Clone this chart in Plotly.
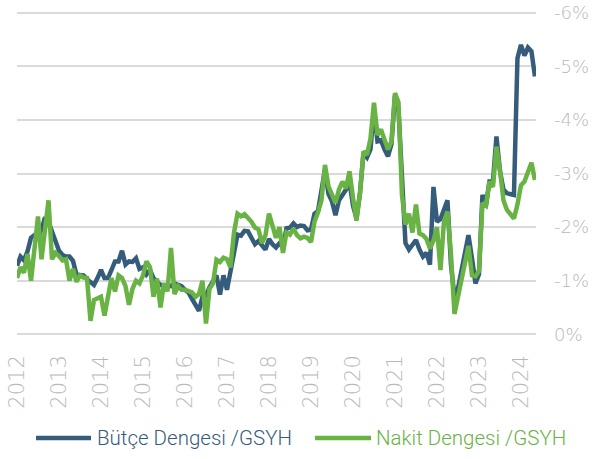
import plotly.graph_objects as go

# Monthly observations (index 0 = Jan 2012), balance / GDP in %
butce = [
    -1.28, -1.45, -1.38, -1.55, -1.80, -1.85, -1.80, -1.95, -2.18, -2.10,
    -1.92, -1.74, -1.56, -1.48, -1.45, -1.45, -1.37, -1.11, -1.10, -1.10,
    -1.03, -0.96, -0.92, -1.05, -1.20, -1.05, -1.05, -1.20, -1.36, -1.36,
    -1.56, -1.30, -1.36, -1.35, -1.42, -1.22, -1.25, -1.12, -1.20, -1.05,
    -0.98, -0.92, -0.92, -0.91, -0.90, -0.95, -0.93, -0.90, -0.83, -0.78,
    -0.66, -0.55, -0.44, -0.70, -0.72, -0.88, -1.00, -1.10, -0.74, -1.10,
    -0.83, -1.20, -1.60, -1.86, -1.84, -1.93, -1.92, -1.80, -1.68, -1.74,
    -1.66, -1.58, -1.78, -1.68, -1.62, -1.70, -1.62, -1.98, -1.99, -2.07,
    -2.00, -2.03, -2.02, -1.94, -1.95, -2.25, -2.30, -2.70, -3.07, -2.62,
    -2.48, -2.22, -2.50, -2.60, -2.70, -2.85, -2.40, -2.16, -2.63, -3.38,
    -3.30, -3.45, -4.20, -3.60, -3.62, -3.45, -3.32, -3.55, -4.45, -4.20,
    -2.80, -1.70, -1.58, -1.66, -1.76, -1.58, -1.45, -1.52, -1.30, -2.75,
    -2.10, -2.15, -2.35, -2.50, -1.30, -0.70, -0.85, -1.20, -1.50, -1.85,
    -1.42, -0.95, -1.12, -2.60, -2.40, -2.85, -2.85, -3.69, -3.05, -2.70,
    -2.63, -2.62, -2.60, -5.15, -5.40, -5.20, -5.35, -5.28, -4.81,
]
nakit = [
    -1.05, -1.25, -1.15, -1.50, -1.00, -1.60, -2.20, -1.40, -1.90, -2.50,
    -1.40, -1.52, -1.46, -1.38, -1.40, -1.00, -1.22, -0.98, -1.10, -1.06,
    -1.05, -0.25, -0.64, -0.66, -0.70, -0.35, -0.75, -1.05, -0.80, -1.10,
    -1.05, -0.90, -0.55, -0.85, -1.00, -0.95, -1.10, -1.36, -1.25, -0.70,
    -1.04, -0.50, -0.95, -0.80, -1.61, -0.75, -0.90, -0.83, -0.83, -0.80,
    -0.78, -0.70, -0.75, -1.00, -0.20, -0.85, -0.95, -1.39, -1.35, -1.43,
    -1.40, -1.25, -1.90, -2.25, -2.20, -2.24, -2.18, -2.10, -1.99, -1.96,
    -1.70, -1.85, -2.25, -2.00, -1.80, -2.00, -1.52, -1.90, -1.86, -1.97,
    -1.85, -1.79, -1.82, -1.80, -1.72, -2.10, -2.27, -2.50, -3.16, -2.76,
    -2.60, -2.45, -2.70, -2.85, -2.72, -3.04, -2.55, -2.12, -2.63, -3.41,
    -3.35, -3.65, -4.32, -3.72, -3.82, -3.60, -3.45, -3.60, -4.50, -4.33,
    -2.60, -2.05, -2.25, -1.90, -2.42, -1.88, -1.85, -1.78, -1.60, -1.75,
    -2.00, -1.20, -2.10, -2.29, -1.50, -0.38, -0.70, -1.00, -1.30, -1.65,
    -1.10, -1.08, -1.18, -2.45, -2.40, -2.85, -2.75, -3.50, -3.07, -2.50,
    -2.32, -2.25, -2.16, -2.42, -2.78, -2.85, -3.05, -3.20, -2.88,
]
years = ["2012", "2013", "2014", "2015", "2016", "2017", "2018",
         "2019", "2020", "2021", "2022", "2023", "2024"]
y_ticks = [0, -1, -2, -3, -4, -5, -6]
y_labels = ["0%", "-1%", "-2%", "-3%", "-4%", "-5%", "-6%"]
series_names = ["Bütçe Dengesi /GSYH", "Nakit Dengesi /GSYH"]

BLUE = "#355c7b"
GREEN = "#69b244"
GREY = "#b9b9b9"
TICK_FONT = "DejaVu Sans"
LEG_FONT = "Roboto"

idx = list(range(len(butce)))
year_pos = [12 * k for k in range(len(years))]

fig = go.Figure()
fig.add_trace(go.Scatter(x=idx, y=butce, mode="lines", name=series_names[0],
                         line=dict(color=BLUE, width=4.5)))
fig.add_trace(go.Scatter(x=idx, y=nakit, mode="lines", name=series_names[1],
                         line=dict(color=GREEN, width=4.5)))

PAD = 0.05                      # small y padding so edge gridlines are not clipped
UNIT = 53.67                    # pixels per 1 %
L, W = 17, 519
T = round(12.7 - PAD * UNIT)
H = round((6 + 2 * PAD) * UNIT)
FW, FH = 596, 459

def px(x):  # pixel -> paper x
    return (x - L) / W

def py(y):  # pixel -> paper y
    return (T + H - y) / H

leg_y = 438
for (x0, x1, tx), name, col in zip([(36, 91, 95), (315, 371, 374)],
                                   series_names, [BLUE, GREEN]):
    fig.add_shape(type="line", xref="paper", yref="paper",
                  x0=px(x0), x1=px(x1), y0=py(leg_y), y1=py(leg_y),
                  line=dict(color=col, width=4.5))
    fig.add_annotation(xref="paper", yref="paper", x=px(tx), y=py(leg_y),
                       xanchor="left", yanchor="middle", showarrow=False,
                       text=name, font=dict(family=LEG_FONT, size=20.5,
                                            color=col, weight=300))

fig.update_layout(
    width=FW, height=FH,
    margin=dict(l=L, r=FW - L - W, t=T, b=FH - T - H),
    paper_bgcolor="white", plot_bgcolor="white",
    font=dict(family=TICK_FONT, color=GREY, size=18),
    showlegend=False,
    xaxis=dict(range=[0, 148.3], tickmode="array", tickvals=year_pos,
               ticktext=years, tickangle=-90, showgrid=False,
               zeroline=False, showline=False, ticks="", automargin=False,
               ticklabelstandoff=13, ticklabeloverflow="allow",
               tickfont=dict(size=21, color=GREY, family=TICK_FONT, weight=200)),
    yaxis=dict(range=[PAD, -6 - PAD], side="right", tickmode="array",
               tickvals=y_ticks, ticktext=y_labels, showgrid=True,
               gridcolor="#dadada", gridwidth=2, zeroline=False,
               showline=False, ticks="", automargin=False,
               ticklabelstandoff=17, ticklabeloverflow="allow",
               tickfont=dict(size=18, color=GREY, family=TICK_FONT, weight=200)),
)

# place the figure at the page's top-left corner (no default body margin)
fig.write_html("out.html", config={"displayModeBar": False},
               post_script="document.body.style.margin='0';")
